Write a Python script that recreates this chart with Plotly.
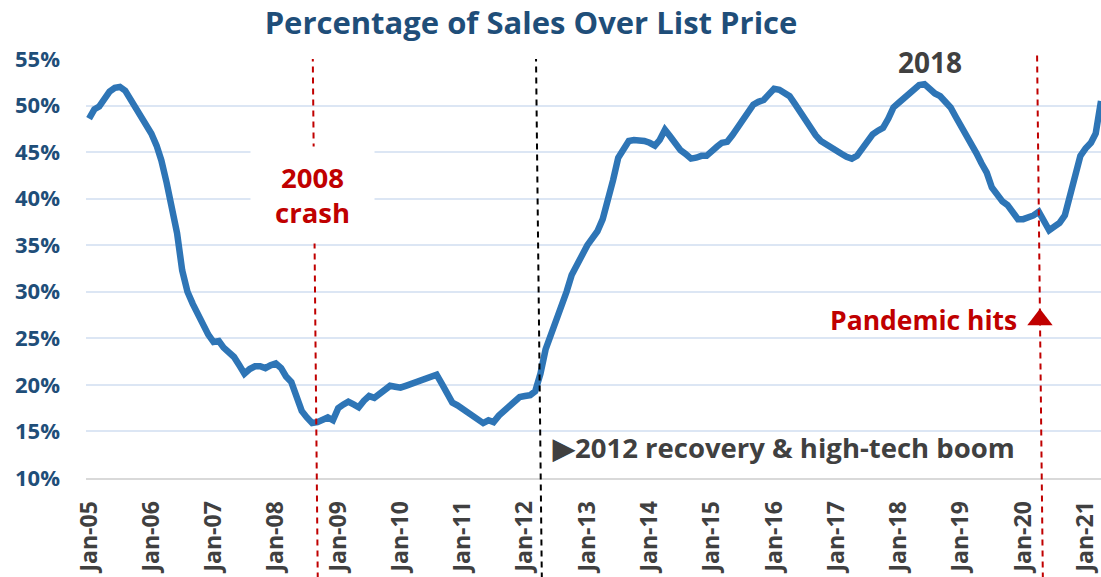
import plotly.graph_objects as go
import pandas as pd

# Monthly % of sales over list price, Jan-2005 .. Apr-2021
start_month = "2005-01-01"
pct_over_list = [
    # 2005
    48.6, 49.6, 49.9, 50.6, 51.5, 51.9, 52.0, 51.6, 50.7, 49.8, 48.8, 47.9,
    # 2006
    47.0, 45.7, 44.1, 41.7, 39.1, 36.3, 32.3, 30.0, 28.7, 27.5, 26.4, 25.4,
    # 2007
    24.6, 24.7, 24.0, 23.5, 23.0, 22.1, 21.2, 21.7, 22.0, 22.0, 21.8, 22.1,
    # 2008
    22.3, 21.8, 20.9, 20.3, 18.8, 17.2, 16.5, 15.9, 16.0, 16.2, 16.5, 16.2,
    # 2009
    17.5, 17.9, 18.2, 17.9, 17.6, 18.3, 18.8, 18.6, 19.0, 19.5, 19.9, 19.8,
    # 2010
    19.7, 19.9, 20.1, 20.4, 20.6, 20.8, 20.9, 21.1, 20.1, 19.0, 18.1, 17.8,
    # 2011
    17.4, 17.1, 16.7, 16.3, 15.9, 16.2, 16.0, 16.7, 17.2, 17.6, 18.2, 18.7,
    # 2012
    18.8, 18.9, 19.3, 21.2, 23.8, 25.3, 26.8, 28.3, 30.0, 31.8, 33.0, 34.2,
    # 2013
    35.0, 35.8, 36.5, 37.8, 39.6, 42.0, 44.4, 45.4, 46.2, 46.3, 46.3, 46.2,
    # 2014
    46.0, 45.7, 46.3, 47.4, 46.7, 45.9, 45.2, 44.8, 44.3, 44.4, 44.6, 44.6,
    # 2015
    45.0, 45.6, 46.0, 46.1, 46.8, 47.6, 48.3, 49.1, 50.1, 50.4, 50.6, 51.2,
    # 2016
    51.8, 51.7, 51.4, 51.0, 50.2, 49.3, 48.5, 47.6, 46.8, 46.2, 45.8, 45.4,
    # 2017
    45.2, 44.8, 44.5, 44.3, 44.6, 45.3, 46.0, 46.9, 47.3, 47.6, 48.6, 49.8,
    # 2018
    50.3, 50.8, 51.2, 51.6, 52.2, 52.3, 51.7, 51.3, 51.0, 50.5, 49.8, 48.8,
    # 2019
    47.8, 47.1, 46.1, 44.9, 43.8, 42.8, 41.2, 40.3, 39.7, 39.3, 38.6, 37.8,
    # 2020
    37.8, 38.0, 38.2, 38.6, 37.5, 36.6, 37.0, 37.4, 38.2, 40.3, 42.8, 44.6,
    # 2021
    45.4, 46.0, 47.0, 50.5,
]
months = pd.date_range(start_month, periods=len(pct_over_list), freq="MS")

y_ticks = [10, 15, 20, 25, 30, 35, 40, 45, 50, 55]
y_tick_labels = [f"{v}%" for v in y_ticks]
x_tick_dates = pd.date_range("2005-01-01", "2021-01-01", freq="YS")
x_tick_labels = [d.strftime("Jan-%y") for d in x_tick_dates]

# event markers (bottom date, top date)
crash_line = ("2008-09-03", "2008-08-05")
recovery_line = ("2012-04-09", "2012-03-06")
pandemic_line = ("2020-04-25", "2020-03-22")

title_text = "Percentage of Sales Over List Price"
crash_text = "2008<br>crash"
peak_text = "2018"
recovery_text = "▶2012 recovery & high-tech boom"
pandemic_text = "Pandemic hits"

FONT = "Open Sans"
BLUE = "#2E75B6"
RED = "#C00000"
DARK = "#404040"
NAVY = "#1F4E79"

W, H = 1101, 577

fig = go.Figure()
fig.add_trace(go.Scatter(
    x=months, y=pct_over_list, mode="lines",
    line=dict(color=BLUE, width=6.5), hoverinfo="skip", showlegend=False,
))
# pandemic triangle marker
fig.add_trace(go.Scatter(
    x=[pd.Timestamp("2020-04-08")], y=[27.0], mode="markers",
    marker=dict(symbol="triangle-up", size=22, color=RED),
    hoverinfo="skip", showlegend=False, cliponaxis=False,
))

shapes = []
for (bot, top), col, ytop in [(crash_line, RED, 1.0), (recovery_line, "black", 1.0),
                               (pandemic_line, RED, 1.017)]:
    shapes.append(dict(type="line", xref="x", yref="paper",
                       x0=bot, y0=-0.24, x1=top, y1=ytop,
                       line=dict(color=col, width=2, dash="6px,5px"), layer="above"))

annotations = [
    dict(text=crash_text, x="2008-08-06", y=40.4, xref="x", yref="y", showarrow=False,
         font=dict(family=FONT, size=27.5, color=RED, weight="bold"),
         bgcolor="white", width=121, height=94, align="center"),
    dict(text=peak_text, x="2018-07-01", y=1 + 14 / 419, xref="x", yref="paper",
         showarrow=False,
         font=dict(family=FONT, size=28, color=DARK, weight="bold"),
         bgcolor="white", width=110, height=30),
    dict(text=recovery_text, x="2016-02-27", y=13.3, xref="x", yref="y", showarrow=False,
         font=dict(family=FONT, size=27.5, color=DARK, weight="bold")),
    dict(text=pandemic_text, x="2018-05-28", y=27.0, xref="x", yref="y", showarrow=False,
         font=dict(family=FONT, size=26.5, color=RED, weight="bold")),
]

fig.update_layout(
    width=W, height=H, autosize=False,
    margin=dict(l=86, r=0, t=59, b=99, autoexpand=False),
    paper_bgcolor="white", plot_bgcolor="white",
    title=dict(text=title_text, x=531 / W, xref="container", xanchor="center",
               y=1 - 23 / H, yref="container", yanchor="middle",
               font=dict(family=FONT, size=31, color=NAVY, weight="bold")),
    shapes=shapes, annotations=annotations,
    xaxis=dict(type="date", range=["2004-12-14", "2021-04-01"], automargin=False,
               tickvals=x_tick_dates, ticktext=x_tick_labels, tickangle=-90,
               showgrid=False, zeroline=False, showline=True, linecolor="#D9D9D9", linewidth=2,
               ticks="", ticklabelstandoff=12,
               tickfont=dict(family=FONT, size=23, color=DARK, weight="bold")),
    yaxis=dict(range=[10, 55], tickvals=y_ticks, ticktext=y_tick_labels, automargin=False,
               showgrid=True, gridcolor="#DCE6F4", gridwidth=2, zeroline=False,
               showline=False, ticks="", ticklabelstandoff=25,
               tickfont=dict(family=FONT, size=22, color=NAVY, weight="bold")),
)

# remove the default page margin so the figure fills the window exactly
fig.write_html(
    "out.html",
    config={"displayModeBar": False},
    post_script="document.body.style.margin='0';document.body.style.overflow='hidden';",
)
